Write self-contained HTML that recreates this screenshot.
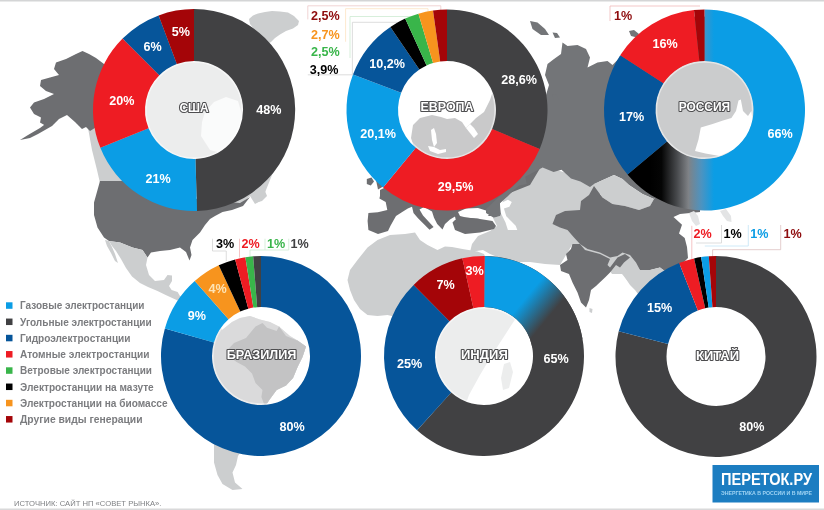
<!DOCTYPE html>
<html><head><meta charset="utf-8"><title>chart</title>
<style>
html,body{margin:0;padding:0;background:#fff;}
body{width:824px;height:510px;overflow:hidden;font-family:"Liberation Sans",sans-serif;}
svg{display:block;will-change:transform;font-family:"Liberation Sans",sans-serif;}
</style></head><body>
<svg width="824" height="510" viewBox="0 0 824 510">
<defs>
<linearGradient id="gRus" gradientUnits="userSpaceOnUse" x1="650" y1="0" x2="714" y2="0"><stop offset="0" stop-color="#000"/><stop offset="0.18" stop-color="#050505"/><stop offset="0.42" stop-color="#47494c"/><stop offset="0.6" stop-color="#7f8286"/><stop offset="0.8" stop-color="#4d93c0"/><stop offset="1" stop-color="#0b9de5"/></linearGradient>
<linearGradient id="gInd" gradientUnits="userSpaceOnUse" x1="527" y1="296.5" x2="550" y2="315.5"><stop offset="0" stop-color="#0b9de5"/><stop offset="1" stop-color="#414143"/></linearGradient>
</defs>
<rect width="824" height="510" fill="#fff"/>
<g id="map">
<polygon points="88,128 96,100 104,72 120,45 150,22 185,12 215,12 235,22 255,32 270,50 282,70 290,95 290,120 282,150 270,180 262,200 255,204 250,196 240,205 225,210 205,200 180,190 150,184 120,183 100,183 97,170 92,150" fill="#cccecf" />
<polygon points="249,19 253,15.5 258,13.5 265,12 272,11 280,11.5 288,12.5 294,16 299,21 298,25 293,28.5 286,31 280,34.5 275,38 271,42 266,45 258,34 250,24" fill="#cccecf" />
<polygon points="252,193 258,190 265,191 267,196 262,201 255,203" fill="#cccecf" />
<polygon points="205,112 214,102 226,97 238,101 243,118 237,138 224,154 210,150 201,136 202,122" fill="#fff" fill-opacity="0.75"/>
<polygon points="82.5,51 89,54 96,58 104,64 108,90 104,110 98,126 90,131 86,127 82,129 75,122 67,115 59,119 52,126 45,130 38,134 30,138 20,140 28,135 40,128 48,122 46,126 40,122.5 41,117.5 34,114 30,107.5 34,102.5 44,99 54,94 46,91 40,86 41,80 50,77.5 59,75 54,69 56,62.5 66,59 76,54" fill="#6d6e71" />
<polygon points="100,181 140,181 200,200 240,203 250,197 243,206 232,210 222.5,212 215,216 210,219 205,225 200,232.5 192.5,240 190,247.5 191.5,255 189.5,260.5 186,252 180,247.5 170,250 160,251 151,252.5 147.5,257.5 142.5,250 132.5,247.5 120,242.5 109,241 104,237.5 97.5,227.5 94,215 94,202.5 97.5,190" fill="#6d6e71" />
<polygon points="109,241 120,242.5 132.5,247.5 142.5,250 147.5,257.5 146,265 149,275 155,281 164,280 167.5,275 172,275.5 172,281 169,286 171.6,290 177.6,292 180,296 190,302 200,306 196,310 186,306 176.6,300 165.7,295 157.5,291 148,287 140,283 132,276.5 126,268 121,259 116,251 112,246" fill="#cccecf" />
<polygon points="105,240 109,241 112,247 115,254 118,263 115,261 111,253 107,246" fill="#cccecf" />
<polygon points="196,306 204,306 214,314 222,330 232,322 240,318 250,316 260,319.5 270,322 279,326.6 290,336 298,340.7 306,346.6 302.5,357 297.8,366.6 293,378 286,385.4 276.6,390 269.6,399.5 265,406.6 262,418 256,430 246,444 238,456 236,465 232.5,472.5 235,482.5 242.5,489 232.5,490 222.5,484 217.5,475 214,462.5 214,440 216,420 218,400 214,384 204,370 198,356 196,340 198,324" fill="#cccecf" />
<polygon points="228.4,349 234,343 246,338 255.5,326.6 262.5,323 267,327.8 276.6,331 279,326.6 286,336 297.8,340.7 306,346.6 302.5,357 297.8,366.6 293,378 286,385.4 276.6,390 269.6,399.5 265,406.6 261.4,397 262.5,390 255.5,383 252,373.6 245,366.6 236.6,362 229.6,357" fill="#6d6e71" />
<clipPath id="cbra"><circle cx="261" cy="356" r="50"/></clipPath><g clip-path="url(#cbra)">
<polygon points="196,306 204,306 214,314 222,330 232,322 240,318 250,316 260,319.5 270,322 279,326.6 290,336 298,340.7 306,346.6 302.5,357 297.8,366.6 293,378 286,385.4 276.6,390 269.6,399.5 265,406.6 262,418 256,430 246,444 238,456 236,465 232.5,472.5 235,482.5 242.5,489 232.5,490 222.5,484 217.5,475 214,462.5 214,440 216,420 218,400 214,384 204,370 198,356 196,340 198,324" fill="#9a9b9d" />
<polygon points="228.4,349 234,343 246,338 255.5,326.6 262.5,323 267,327.8 276.6,331 279,326.6 286,336 297.8,340.7 306,346.6 302.5,357 297.8,366.6 293,378 286,385.4 276.6,390 269.6,399.5 265,406.6 261.4,397 262.5,390 255.5,383 252,373.6 245,366.6 236.6,362 229.6,357" fill="#5c5d60" />
</g>
<polygon points="350,270 357.5,260 367.5,247.5 377.5,240 390,235 405,234 415,232.5 420,240 427.5,245 437.5,250 445,246.5 452,247 462.5,249 477.5,251.5 484,254 490,268 500,285 510,300 520,312 516,318 505,335 492,355 480,375 469,395 462,415 450,430 438,425 430,400 425,375 415,350 410,330 400,318 387.5,315 377.5,316 367.5,315 360,309 354,300 350,290 347.5,280" fill="#cccecf" />
<polygon points="504,364 510,362 513,372 509,388 503,390 501,378" fill="#cccecf" />
<polygon points="470,252 472,244 478,236 490,231 497,226 493,218 500,216 503,200 515,186 540,165 600,183 600,200 575,240 566,255 560,265 545,264 530,262 515,262 500,258 490,254 483,250" fill="#cccecf" />
<polygon points="366.8,179 371.5,177.6 374,181.5 370.8,185.5 366.8,184" fill="#6d6e71" />
<polygon points="376,150 384,140 392,150 388,170 384,186 378,189.4 376,180" fill="#6d6e71" />
<polygon points="380,196 379.4,198.5 385.7,202 387.3,210 377.9,212.3 368.4,213 367.6,221 368.4,230 378,234 388,231 390.5,225.7 394,219.4 396,216 403,211.5 407.8,208.4 412,206.8 413.5,213 418,218.2 424.3,224.6 429.5,229.8 433.6,227 429,222 423,215.5 419.5,209.5 424,207 432,211.5 434,217.8 437.2,224 442.5,229.5 445,224 450,219.4 455,216.5 456,221 470,221 486,216 500,216 500.8,213 500,203 505,198 512,192 520,186 525,177 540,165 548,100 540,120 520,150 480,170 440,170 400,180 380,190" fill="#6d6e71" />
<polygon points="413,125 420,118 432,115 441,117 447,119 455,118 462,122 466,128 470,124 476,118 484,112 490,100 494,88 500,80 520,90 540,120 545,160 530,185 505,195 480,185 450,185 430,180 418,160 411,138" fill="#6d6e71" />
<polygon points="431,130 434,128 436,134 437,143 434,147 432,140" fill="#fff" />
<polygon points="428,146 434,147 440,150 446,149 446,152 438,154 430,151" fill="#fff" />
<polygon points="466,128 470,124 474,128 478,134 474,138 470,133" fill="#fff" />
<polygon points="458,212 466,208.5 478,208 486,210.5 490,214 486,217.5 476,218.5 466,217.5 460,216" fill="#fff" />
<polygon points="452.5,222.5 455,220 465,217.5 480,219 492.5,221 496,226 494,229 480,232.5 465,234 455,230" fill="#6d6e71" />
<polygon points="546,100 546,95 549,85 545,75 547.5,64 554,59 561,54 562.5,42.5 567.5,46 577.5,45 586,49 590,57.5 587.5,67.5 597.5,62.5 607.5,61 612.5,65 645,32 700,15 770,40 800,90 800,130 770,175 740,195 700,205 680,200 662,192 654,199 642.5,194 629,185 622.5,179 614,175 594,184 590,187 580.4,181.5 571,178.4 561.5,169.7 553.6,172 542.6,167.4 525.2,176.8 526.8,184 519,185.5 512.6,191 508,196 500,203 500.8,213 500,216 493.7,217.8 486,213 486,209 500,196 520,180 535,140 540,110" fill="#737578" />
<polygon points="700.8,127.6 712.6,124 723,120.6 731.4,118 736,111 738.5,100.6 740.8,99.4 743,111 748,116 751.4,111 752.6,120.6 748,134.7 736,148.8 719.6,156 705.5,153.5 695,151 698.5,139.4" fill="#fff" />
<polygon points="530,21 537.5,22.5 545,29 549,35 541,35 532.5,29" fill="#737578" />
<polygon points="552.5,32.5 557,33 560,37.5 555,38" fill="#737578" />
<polygon points="629,31 634,30 639,34 637,37.5 631,36" fill="#737578" />
<polygon points="552.5,95 556,94 559,100 554,100" fill="#737578" />
<polygon points="500,203.6 507.9,199.7 511.8,202 509.4,206.8 503.9,208.4 506.3,216.2 511,221 515.7,225.7 517.3,230 507.9,230 505.5,222.6 500.8,213" fill="#fff" />
<polygon points="594,184 614,175 622.5,179 629,185 642.5,194 654,199 650,206 639,210 625,206 612.5,204 602.5,197.5" fill="#cccecf" />
<polygon points="572,236 587.5,247 600,251 610,256 617.5,254 622.5,251 632,254 638,262.5 642,270 632,286 622,274 612,274 604,262 585,254 572,246" fill="#cccecf" />
<polygon points="552.5,224 556,215 565,211 580,210 581,201 589,195 594,186 602.5,197.5 612.5,204 625,206 639,210 650,206 654,199 662,192 680,200 700,200 700,212 680,214 673.5,217 682,224.7 679,233.6 684.7,238 687,247 688,258 684,262 670,275 660,267.5 650,270 640,270 636,262.5 630,255 622.5,252.5 617.5,256 610,257.5 600,252.5 587.5,249 580,244 574,237.5 567.5,230 560,227.5" fill="#6d6e71" />
<polygon points="620,267.5 625,257.5 632.5,262.5 640,270 650,270 660,267.5 672,276 670,300 650,310 635,290 630,285 625,277.5" fill="#cccecf" />
<polygon points="572.5,244 580,244 585,250 600,254 610,259 607.5,265 610,267.5 617.5,257.5 625,254 630,257.5 624,262.5 620,267.5 616,265 610,272.5 605,277.5 596,286 591,290 589,300 586,307.5 581,302.5 577.5,292.5 572.5,282.5 569,274 561,271 560,265 567.5,260 566,254 571,249" fill="#6d6e71" />
<polygon points="589.5,308 592.5,309 592,313 589.5,312" fill="#cccecf" />
<polygon points="689,213 694,211 698,216 700,224 696,226 692,221" fill="#e3e4e5" />
<polygon points="720,211 726,209 731,216 731.5,222 727,221 723,216" fill="#e3e4e5" />
</g>
<rect x="0" y="0" width="824" height="1.5" fill="#d4d5d6"/>
<rect x="0" y="508.5" width="824" height="1.5" fill="#d9d9da"/>
<g id="lines">
<g fill="none" stroke-width="0.8">
<path d="M307.8,19.4V5.8H440.8V10" stroke="#ecc9c9"/>
<path d="M345.6,41.7V8.7H428V13" stroke="#fbe2c2"/>
<path d="M350,58V16.5H410.7V20" stroke="#cdebd2"/>
<path d="M307.8,74.8H352.4V22.3H397V27" stroke="#d4d4d4"/>
<path d="M610,21V6H700" stroke="#f0b9b9"/>
<path d="M212.5,238.75V251H226.25V261" stroke="#d4d4d4"/>
<path d="M239.5,238.75V257.5" stroke="#f3b5b7"/>
<path d="M265,238.75V250M288.75,238.75V250M250,257V250H288.75" stroke="#cdebd2"/>
<path d="M691.8,225.8V259" stroke="#f3b5b7"/>
<path d="M696,243H721.5V225" stroke="#d4d4d4"/>
<path d="M704.8,246H748.3V225" stroke="#c3e4f6"/>
<path d="M712.6,258V249.7H780.7V225" stroke="#dcc0c0"/>
</g>

</g>
<g id="donuts">
<circle cx="194" cy="110" r="49.5" fill="#fff" fill-opacity="0.63"/>
<circle cx="194" cy="110" r="48.2" fill="none" stroke="#fff" stroke-width="1.8" stroke-opacity="0.5"/>
<path d="M194.00,9.00A101,101 0 0 1 197.00,210.96L195.45,158.98A49,49 0 0 0 194.00,61.00Z" fill="#414143"/>
<path d="M197.00,210.96A101,101 0 0 1 100.35,147.84L148.57,128.36A49,49 0 0 0 195.45,158.98Z" fill="#0b9de5"/>
<path d="M100.35,147.84A101,101 0 0 1 122.58,38.58L159.35,75.35A49,49 0 0 0 148.57,128.36Z" fill="#ee1c23"/>
<path d="M122.58,38.58A101,101 0 0 1 158.63,15.40L176.84,64.10A49,49 0 0 0 159.35,75.35Z" fill="#06559a"/>
<path d="M158.63,15.40A101,101 0 0 1 194.00,9.00L194.00,61.00A49,49 0 0 0 176.84,64.10Z" fill="#a40508"/>

<circle cx="447" cy="110" r="49.5" fill="#fff" fill-opacity="0.63"/>
<circle cx="447" cy="110" r="48.2" fill="none" stroke="#fff" stroke-width="1.8" stroke-opacity="0.5"/>
<path d="M447.00,9.50A100.5,100.5 0 0 1 539.65,148.95L492.17,128.99A49,49 0 0 0 447.00,61.00Z" fill="#414143"/>
<path d="M539.65,148.95A100.5,100.5 0 0 1 383.07,187.55L415.83,147.81A49,49 0 0 0 492.17,128.99Z" fill="#ee1c23"/>
<path d="M383.07,187.55A100.5,100.5 0 0 1 352.99,74.48L401.16,92.68A49,49 0 0 0 415.83,147.81Z" fill="#0b9de5"/>
<path d="M352.99,74.48A100.5,100.5 0 0 1 390.37,26.98L419.39,69.52A49,49 0 0 0 401.16,92.68Z" fill="#06559a"/>
<path d="M390.37,26.98A100.5,100.5 0 0 1 405.16,18.62L426.60,65.45A49,49 0 0 0 419.39,69.52Z" fill="#000000"/>
<path d="M405.16,18.62A100.5,100.5 0 0 1 418.46,13.64L433.08,63.02A49,49 0 0 0 426.60,65.45Z" fill="#39b54a"/>
<path d="M418.46,13.64A100.5,100.5 0 0 1 433.01,10.48L440.18,61.48A49,49 0 0 0 433.08,63.02Z" fill="#f7941e"/>
<path d="M433.01,10.48A100.5,100.5 0 0 1 447.00,9.50L447.00,61.00A49,49 0 0 0 440.18,61.48Z" fill="#a40508"/>

<circle cx="704.5" cy="110" r="49.5" fill="#fff" fill-opacity="0.63"/>
<circle cx="704.5" cy="110" r="48.2" fill="none" stroke="#fff" stroke-width="1.8" stroke-opacity="0.5"/>
<path d="M704.50,9.50A100.5,100.5 0 1 1 627.51,174.60L666.96,141.50A49,49 0 1 0 704.50,61.00Z" fill="url(#gRus)"/>
<path d="M627.51,174.60A100.5,100.5 0 0 1 620.21,55.26L663.41,83.31A49,49 0 0 0 666.96,141.50Z" fill="#06559a"/>
<path d="M620.21,55.26A100.5,100.5 0 0 1 693.99,10.05L699.38,61.27A49,49 0 0 0 663.41,83.31Z" fill="#ee1c23"/>
<path d="M693.99,10.05A100.5,100.5 0 0 1 704.50,9.50L704.50,61.00A49,49 0 0 0 699.38,61.27Z" fill="#a40508"/>

<circle cx="261" cy="356" r="49.5" fill="#fff" fill-opacity="0.63"/>
<circle cx="261" cy="356" r="48.2" fill="none" stroke="#fff" stroke-width="1.8" stroke-opacity="0.5"/>
<path d="M261.00,256.00A100,100 0 1 1 164.87,328.44L213.90,342.49A49,49 0 1 0 261.00,307.00Z" fill="#06559a"/>
<path d="M164.87,328.44A100,100 0 0 1 194.74,281.10L228.53,319.30A49,49 0 0 0 213.90,342.49Z" fill="#0b9de5"/>
<path d="M194.74,281.10A100,100 0 0 1 218.74,265.37L240.29,311.59A49,49 0 0 0 228.53,319.30Z" fill="#f7941e"/>
<path d="M218.74,265.37A100,100 0 0 1 235.12,259.41L248.32,308.67A49,49 0 0 0 240.29,311.59Z" fill="#000000"/>
<path d="M235.12,259.41A100,100 0 0 1 245.36,257.23L253.33,307.60A49,49 0 0 0 248.32,308.67Z" fill="#ee1c23"/>
<path d="M245.36,257.23A100,100 0 0 1 253.15,256.31L257.16,307.15A49,49 0 0 0 253.33,307.60Z" fill="#39b54a"/>
<path d="M253.15,256.31A100,100 0 0 1 261.00,256.00L261.00,307.00A49,49 0 0 0 257.16,307.15Z" fill="#414143"/>

<circle cx="484" cy="356" r="49.5" fill="#fff" fill-opacity="0.63"/>
<circle cx="484" cy="356" r="48.2" fill="none" stroke="#fff" stroke-width="1.8" stroke-opacity="0.5"/>
<path d="M484.87,256.00A100,100 0 1 1 417.09,430.31L451.21,392.41A49,49 0 1 0 484.43,307.00Z" fill="#414143"/>
<path d="M417.09,430.31A100,100 0 0 1 413.66,284.92L449.53,321.17A49,49 0 0 0 451.21,392.41Z" fill="#06559a"/>
<path d="M413.66,284.92A100,100 0 0 1 462.36,258.37L473.39,308.16A49,49 0 0 0 449.53,321.17Z" fill="#a40508"/>
<path d="M462.36,258.37A100,100 0 0 1 484.87,256.00L484.43,307.00A49,49 0 0 0 473.39,308.16Z" fill="#ee1c23"/>
<path d="M484.87,256.00A100,100 0 0 1 582.48,338.64L532.26,347.49A49,49 0 0 0 484.43,307.00Z" fill="url(#gInd)"/>
<circle cx="716" cy="356.5" r="50.0" fill="#fff" fill-opacity="0.63"/>
<circle cx="716" cy="356.5" r="48.7" fill="none" stroke="#fff" stroke-width="1.8" stroke-opacity="0.5"/>
<path d="M716.00,256.00A100.5,100.5 0 1 1 618.70,331.34L668.08,344.11A49.5,49.5 0 1 0 716.00,307.00Z" fill="#414143"/>
<path d="M618.70,331.34A100.5,100.5 0 0 1 679.17,262.99L697.86,310.44A49.5,49.5 0 0 0 668.08,344.11Z" fill="#06559a"/>
<path d="M679.17,262.99A100.5,100.5 0 0 1 694.08,258.42L705.20,308.19A49.5,49.5 0 0 0 697.86,310.44Z" fill="#ee1c23"/>
<path d="M694.08,258.42A100.5,100.5 0 0 1 701.15,257.10L708.68,307.54A49.5,49.5 0 0 0 705.20,308.19Z" fill="#000000"/>
<path d="M701.15,257.10A100.5,100.5 0 0 1 708.81,256.26L712.46,307.13A49.5,49.5 0 0 0 708.68,307.54Z" fill="#0b9de5"/>
<path d="M708.81,256.26A100.5,100.5 0 0 1 716.00,256.00L716.00,307.00A49.5,49.5 0 0 0 712.46,307.13Z" fill="#a40508"/>

</g>
<g id="labels" >
<text x="268.9" y="113.5" font-size="12.6" text-anchor="middle" font-weight="bold" fill="#fff" letter-spacing="0">48%</text>
<text x="158" y="182.8" font-size="12.6" text-anchor="middle" font-weight="bold" fill="#fff" letter-spacing="0">21%</text>
<text x="121.8" y="105" font-size="12.6" text-anchor="middle" font-weight="bold" fill="#fff" letter-spacing="0">20%</text>
<text x="152.5" y="50.7" font-size="12.6" text-anchor="middle" font-weight="bold" fill="#fff" letter-spacing="0">6%</text>
<text x="180.8" y="36" font-size="12.6" text-anchor="middle" font-weight="bold" fill="#fff" letter-spacing="0">5%</text>
<text x="194" y="111.6" font-size="12.4" text-anchor="middle" font-weight="bold" fill="#fff" stroke="#4d4d4f" stroke-width="2.2" paint-order="stroke" stroke-linejoin="round" textLength="29.2" lengthAdjust="spacingAndGlyphs">США</text>
<text x="387" y="67.5" font-size="12.6" text-anchor="middle" font-weight="bold" fill="#fff" letter-spacing="0">10,2%</text>
<text x="519" y="83.75" font-size="12.6" text-anchor="middle" font-weight="bold" fill="#fff" letter-spacing="0">28,6%</text>
<text x="378" y="138" font-size="12.6" text-anchor="middle" font-weight="bold" fill="#fff" letter-spacing="0">20,1%</text>
<text x="455.6" y="190.5" font-size="12.6" text-anchor="middle" font-weight="bold" fill="#fff" letter-spacing="0">29,5%</text>
<text x="447" y="111" font-size="12.4" text-anchor="middle" font-weight="bold" fill="#fff" stroke="#4d4d4f" stroke-width="2.2" paint-order="stroke" stroke-linejoin="round" textLength="53.0" lengthAdjust="spacingAndGlyphs">ЕВРОПА</text>
<text x="325.3" y="20" font-size="12.6" text-anchor="middle" font-weight="bold" fill="#8e0b0d" letter-spacing="0">2,5%</text>
<text x="325.3" y="38.8" font-size="12.6" text-anchor="middle" font-weight="bold" fill="#f7941e" letter-spacing="0">2,7%</text>
<text x="325.3" y="56.3" font-size="12.6" text-anchor="middle" font-weight="bold" fill="#39b54a" letter-spacing="0">2,5%</text>
<text x="324" y="73.8" font-size="12.6" text-anchor="middle" font-weight="bold" fill="#000000" letter-spacing="0">3,9%</text>
<text x="623" y="20" font-size="12.6" text-anchor="middle" font-weight="bold" fill="#8e0b0d" letter-spacing="0">1%</text>
<text x="665" y="48" font-size="12.6" text-anchor="middle" font-weight="bold" fill="#fff" letter-spacing="0">16%</text>
<text x="631.6" y="120.5" font-size="12.6" text-anchor="middle" font-weight="bold" fill="#fff" letter-spacing="0">17%</text>
<text x="780" y="137.5" font-size="12.6" text-anchor="middle" font-weight="bold" fill="#fff" letter-spacing="0">66%</text>
<text x="704.4" y="111" font-size="12.4" text-anchor="middle" font-weight="bold" fill="#fff" stroke="#4d4d4f" stroke-width="2.2" paint-order="stroke" stroke-linejoin="round" textLength="51.5" lengthAdjust="spacingAndGlyphs">РОССИЯ</text>
<text x="225" y="247.5" font-size="12.6" text-anchor="middle" font-weight="bold" fill="#000000" letter-spacing="0">3%</text>
<text x="250.5" y="247.5" font-size="12.6" text-anchor="middle" font-weight="bold" fill="#ee1c23" letter-spacing="0">2%</text>
<text x="276" y="247.5" font-size="12.6" text-anchor="middle" font-weight="bold" fill="#39b54a" letter-spacing="0">1%</text>
<text x="299.6" y="247.5" font-size="12.6" text-anchor="middle" font-weight="bold" fill="#414143" letter-spacing="0">1%</text>
<text x="217.7" y="292.5" font-size="12.6" text-anchor="middle" font-weight="bold" fill="#fde3b5" letter-spacing="0">4%</text>
<text x="196.75" y="319.5" font-size="12.6" text-anchor="middle" font-weight="bold" fill="#fff" letter-spacing="0">9%</text>
<text x="292" y="431.25" font-size="12.6" text-anchor="middle" font-weight="bold" fill="#fff" letter-spacing="0">80%</text>
<text x="261.6" y="358.75" font-size="12.4" text-anchor="middle" font-weight="bold" fill="#fff" stroke="#4d4d4f" stroke-width="2.2" paint-order="stroke" stroke-linejoin="round" textLength="69.75" lengthAdjust="spacingAndGlyphs">БРАЗИЛИЯ</text>
<text x="474.5" y="275" font-size="12.6" text-anchor="middle" font-weight="bold" fill="#fff" letter-spacing="0">3%</text>
<text x="445.6" y="289.25" font-size="12.6" text-anchor="middle" font-weight="bold" fill="#fff" letter-spacing="0">7%</text>
<text x="409.5" y="367.5" font-size="12.6" text-anchor="middle" font-weight="bold" fill="#fff" letter-spacing="0">25%</text>
<text x="556" y="363" font-size="12.6" text-anchor="middle" font-weight="bold" fill="#fff" letter-spacing="0">65%</text>
<text x="484.4" y="358.75" font-size="12.4" text-anchor="middle" font-weight="bold" fill="#fff" stroke="#4d4d4f" stroke-width="2.2" paint-order="stroke" stroke-linejoin="round" textLength="46.75" lengthAdjust="spacingAndGlyphs">ИНДИЯ</text>
<text x="702.5" y="237.5" font-size="12.6" text-anchor="middle" font-weight="bold" fill="#ee1c23" letter-spacing="0">2%</text>
<text x="732.5" y="237.5" font-size="12.6" text-anchor="middle" font-weight="bold" fill="#000000" letter-spacing="0">1%</text>
<text x="759.4" y="237.5" font-size="12.6" text-anchor="middle" font-weight="bold" fill="#0b9de5" letter-spacing="0">1%</text>
<text x="792.5" y="237.5" font-size="12.6" text-anchor="middle" font-weight="bold" fill="#8e0b0d" letter-spacing="0">1%</text>
<text x="659.6" y="312" font-size="12.6" text-anchor="middle" font-weight="bold" fill="#fff" letter-spacing="0">15%</text>
<text x="751.75" y="431.25" font-size="12.6" text-anchor="middle" font-weight="bold" fill="#fff" letter-spacing="0">80%</text>
<text x="717.5" y="360" font-size="12.4" text-anchor="middle" font-weight="bold" fill="#fff" stroke="#4d4d4f" stroke-width="2.2" paint-order="stroke" stroke-linejoin="round" textLength="43.0" lengthAdjust="spacingAndGlyphs">КИТАЙ</text>
</g>
<g id="legend" >
<rect x="6" y="302.30" width="6.5" height="6.5" fill="#0b9de5"/>
<text x="20" y="309.30" font-size="10" font-weight="bold" fill="#7b7c7f" textLength="124.5" lengthAdjust="spacingAndGlyphs">Газовые электростанции</text>
<rect x="6" y="318.55" width="6.5" height="6.5" fill="#414143"/>
<text x="20" y="325.55" font-size="10" font-weight="bold" fill="#7b7c7f" textLength="131.75" lengthAdjust="spacingAndGlyphs">Угольные электростанции</text>
<rect x="6" y="334.80" width="6.5" height="6.5" fill="#06559a"/>
<text x="20" y="341.80" font-size="10" font-weight="bold" fill="#7b7c7f" textLength="110.5" lengthAdjust="spacingAndGlyphs">Гидроэлектростанции</text>
<rect x="6" y="351.05" width="6.5" height="6.5" fill="#ee1c23"/>
<text x="20" y="358.05" font-size="10" font-weight="bold" fill="#7b7c7f" textLength="129.5" lengthAdjust="spacingAndGlyphs">Атомные электростанции</text>
<rect x="6" y="367.30" width="6.5" height="6.5" fill="#39b54a"/>
<text x="20" y="374.30" font-size="10" font-weight="bold" fill="#7b7c7f" textLength="132" lengthAdjust="spacingAndGlyphs">Ветровые электростанции</text>
<rect x="6" y="383.55" width="6.5" height="6.5" fill="#000000"/>
<text x="20" y="390.55" font-size="10" font-weight="bold" fill="#7b7c7f" textLength="133.75" lengthAdjust="spacingAndGlyphs">Электростанции на мазуте</text>
<rect x="6" y="399.80" width="6.5" height="6.5" fill="#f7941e"/>
<text x="20" y="406.80" font-size="10" font-weight="bold" fill="#7b7c7f" textLength="147.5" lengthAdjust="spacingAndGlyphs">Электростанции на биомассе</text>
<rect x="6" y="416.05" width="6.5" height="6.5" fill="#a40508"/>
<text x="20" y="423.05" font-size="10" font-weight="bold" fill="#7b7c7f" textLength="122.5" lengthAdjust="spacingAndGlyphs">Другие виды генерации</text>
</g>
<text x="14" y="505.6" font-size="7.6" fill="#808285" textLength="147.5" lengthAdjust="spacingAndGlyphs">ИСТОЧНИК: САЙТ НП «СОВЕТ РЫНКА».</text>
<g id="logo" >
<rect x="712.5" y="465" width="106.5" height="37.5" fill="#1c7dc1"/>
<text x="721" y="485.2" font-size="16" font-weight="bold" fill="#fff" textLength="91" lengthAdjust="spacingAndGlyphs">ПЕРЕТОК.РУ</text>
<text x="721" y="495" font-size="4.6" font-weight="bold" fill="#9fd3f3" textLength="91" lengthAdjust="spacingAndGlyphs">ЭНЕРГЕТИКА В РОССИИ И В МИРЕ</text>
</g>
</svg>
</body></html>
